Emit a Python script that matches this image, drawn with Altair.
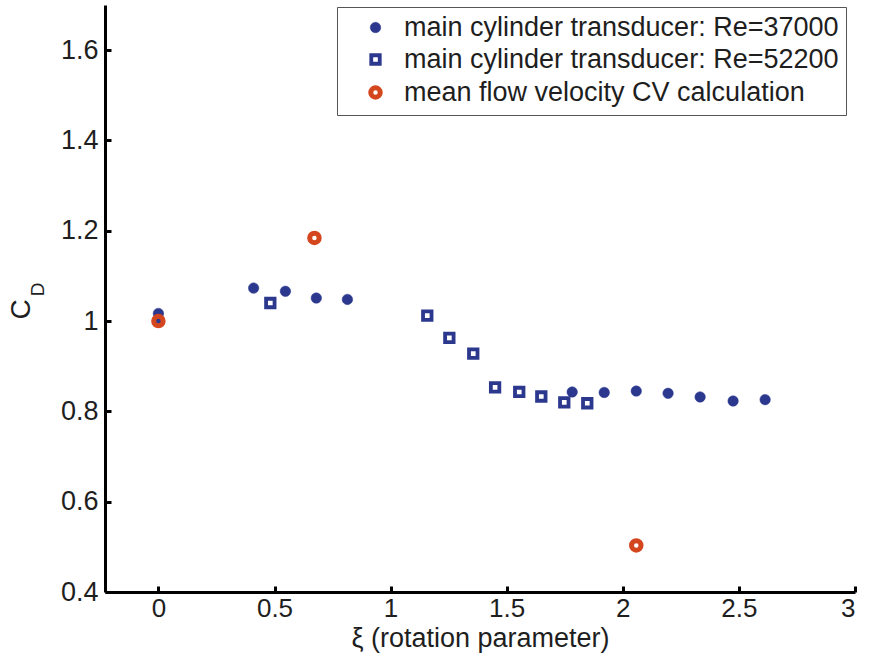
import altair as alt
import pandas as pd

S1 = "main cylinder transducer: Re=37000"
S2 = "main cylinder transducer: Re=52200"
S3 = "mean flow velocity CV calculation"
SERIES = [S1, S2, S3]

# Re = 37000 (filled circles)
x_re37 = [0.0, 0.0, 0.41, 0.547, 0.68, 0.814, 1.782, 1.92, 2.058, 2.195, 2.333, 2.475, 2.613]
cd_re37 = [1.0, 1.017, 1.073, 1.066, 1.051, 1.048, 0.843, 0.842, 0.845, 0.840, 0.832, 0.823, 0.826]
# Re = 52200 (hollow squares)
x_re52 = [0.482, 1.158, 1.253, 1.356, 1.45, 1.554, 1.649, 1.748, 1.847]
cd_re52 = [1.04, 1.012, 0.963, 0.928, 0.853, 0.843, 0.833, 0.82, 0.818]
# CV calculation (red rings)
x_cv = [0.0, 0.672, 2.058]
cd_cv = [1.0, 1.184, 0.503]

x_ticks = [0, 0.5, 1, 1.5, 2, 2.5, 3]
y_ticks = [0.4, 0.6, 0.8, 1.0, 1.2, 1.4, 1.6]

BLUE = "#2b388e"
RED = "#d4461e"
FONT = "Liberation Sans"
TXT = "#1e1e1e"
W, H = 750, 587

df = pd.concat([
    pd.DataFrame({"xi": x_re37, "cd": cd_re37, "series": S1}),
    pd.DataFrame({"xi": x_re52, "cd": cd_re52, "series": S2}),
    pd.DataFrame({"xi": x_cv, "cd": cd_cv, "series": S3}),
], ignore_index=True)

xscale = alt.Scale(domain=[-0.23, 3.0], nice=False, zero=False)
yscale = alt.Scale(domain=[0.4, 1.7], nice=False, zero=False)

base = alt.Chart(df)

points = base.mark_point(opacity=1).encode(
    x=alt.X("xi:Q", scale=xscale,
            axis=alt.Axis(values=x_ticks, format="~g", title="ξ (rotation parameter)",
                          ticks=False, labelPadding=3,
                          titleFontSize=27, titleFont=FONT, titleFontWeight="normal",
                          titleColor=TXT, titlePadding=4)),
    y=alt.Y("cd:Q", scale=yscale,
            axis=alt.Axis(values=y_ticks, format="~g", title="C", orient="left",
                          ticks=False, labelPadding=7, labelFontSize=27,
                          titleFontSize=28, titleFont=FONT, titleFontWeight="normal",
                          titleColor=TXT, titleAngle=270, titleAlign="center",
                          titleBaseline="middle", titleX=-84, titleY=304)),
    shape=alt.Shape("series:N", scale=alt.Scale(domain=SERIES, range=["circle", "square", "circle"])),
    stroke=alt.Stroke("series:N", scale=alt.Scale(domain=SERIES, range=[BLUE, BLUE, RED])),
    fill=alt.Fill("series:N", scale=alt.Scale(domain=SERIES, range=[BLUE, "transparent", "transparent"])),
    size=alt.Size("series:N", scale=alt.Scale(type="ordinal", domain=SERIES, range=[110, 72, 90])),
    strokeWidth=alt.StrokeWidth("series:N", scale=alt.Scale(type="ordinal", domain=SERIES, range=[0.5, 3.8, 5])),
)

# subscript "D" of the y title and inward x ticks (top-oriented axis moved onto the bottom edge)
sub = base.mark_point(opacity=0).encode(
    x=alt.X("xi:Q", scale=xscale,
            axis=alt.Axis(values=x_ticks, orient="top", offset=-H, labels=False, domain=False,
                          ticks=True, tickSize=6, tickWidth=3, tickColor="black", title=None)),
    y=alt.Y("cd:Q", scale=yscale,
            axis=alt.Axis(title="D", orient="left", labels=False, ticks=False, domain=False,
                          titleFontSize=19, titleFont=FONT, titleFontWeight="normal",
                          titleColor=TXT, titleAngle=270, titleAlign="center",
                          titleBaseline="middle", titleX=-68, titleY=284)),
)

# inward y ticks (right-oriented axis moved onto the left edge)
yticks = base.mark_point(opacity=0).encode(
    y=alt.Y("cd:Q", scale=yscale,
            axis=alt.Axis(values=y_ticks, orient="right", offset=-W, labels=False, domain=False,
                          ticks=True, tickSize=6, tickWidth=3, tickColor="black", title=None)),
)

chart = alt.layer(points, sub, yticks).resolve_axis(x="independent", y="independent").properties(
    width=W, height=H,
    autosize=alt.AutoSizeParams(type="none"),
    padding={"left": 105, "top": 5, "right": 14, "bottom": 63},
    background="white",
).configure_view(
    stroke=None
).configure_axis(
    grid=False,
    domainColor="black", domainWidth=3,
    labelFont=FONT, labelFontSize=26, labelColor=TXT,
).configure_legend(
    orient="none", legendX=232, legendY=2, title=None,
    labelFont=FONT, labelFontSize=27, labelColor=TXT, labelLimit=1000,
    strokeColor="#555", fillColor="white", padding=7,
    rowPadding=4, symbolOffset=18, labelOffset=15,
)

chart.save("out.html", embed_options={"renderer": "svg", "actions": False})
